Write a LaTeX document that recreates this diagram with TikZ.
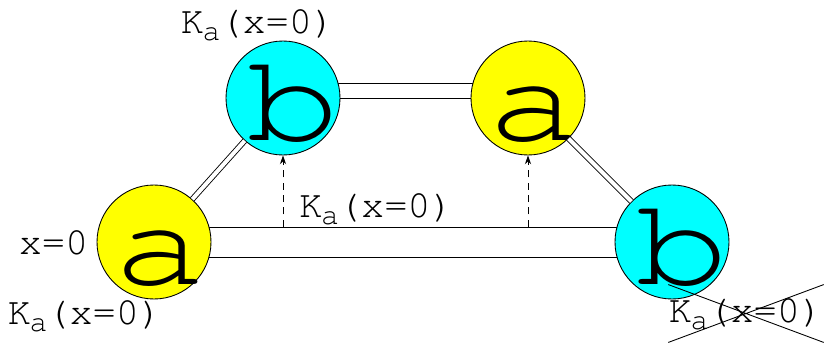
\documentclass[tikz,border=0pt]{standalone}
\usepackage[T1]{fontenc}
\usepackage{courier}
\usepackage{graphicx}
\usepackage{tikz}
\usetikzlibrary{positioning, shapes.misc, backgrounds, calc, arrows.meta}
\definecolor{atomyellow}{HTML}{FFFF00}
\definecolor{atomcyan}{HTML}{00FFFF}
\newcommand{\Kzero}{K\makebox[0.4em]{\raisebox{-0.18em}{\fontsize{17}{17}\selectfont a}}(x=0)}
\newcommand{\wide}[2][0cm]{\makebox[0pt]{\hspace{#1}\scalebox{1.25}[1]{#2}}}

\begin{document}
\begin{tikzpicture}[line width=0.5pt, font=\ttfamily\fontsize{22}{24}\selectfont,
    atom/.style={circle, draw, inner sep=0pt, minimum size=2.28cm, text height=1.68cm, text depth=0pt,
        font=\ttfamily\fontsize{71}{71}\selectfont},
    lbl/.style={inner sep=1pt}]
        \useasboundingbox (0,0) rectangle (16.5,6.86);
        % bonds
        \begin{scope}[on background layer]
        \node[draw, fill=white, inner sep=0pt, minimum width=10.36cm, minimum height=0.6cm] (bar) at (8.26,2.02) {};
        \node[draw, fill=white, inner sep=0pt, minimum width=4.9cm, minimum height=0.3cm] (link) at (8.11,5.05) {};
        \end{scope}
        % atoms
        \node[atom, fill=atomyellow] (a1) at (3.08,2.02) {\wide[0.25cm]{a}};
        \node[atom, fill=atomcyan] (b1) at (5.66,4.9) {\wide[0.4cm]{b}};
        \node[atom, fill=atomyellow] (a2) at (10.56,4.9) {\wide[0.25cm]{a}};
        \node[atom, fill=atomcyan] (b2) at (13.44,2.02) {\wide[0.4cm]{b}};
        \draw[double, double distance=0.08cm] (a1) -- (b1);
        \draw[double, double distance=0.08cm] (a2) -- (b2);
        \draw[dash pattern=on 4pt off 3pt, -{Stealth[length=5pt, width=3.5pt]}] (bar.north -| b1) -- (b1);
        \draw[dash pattern=on 4pt off 3pt, -{Stealth[length=5pt, width=3.5pt]}] (bar.north -| a2) -- (a2);
        % labels
        \node[lbl] (ktop) at (5.16,6.36) {\Kzero};
        \node[lbl, left=0.12cm of a1] (xzero) {x=0};
        \node[lbl] (kleft) at (1.7,0.54) {\Kzero};
        \node[lbl, anchor=south west] (kmid) at (5.94,2.32) {\Kzero};
        \node[cross out, draw, inner sep=0pt, minimum width=2.9cm, minimum height=1.14cm] (kright) at (14.92,0.59) {\Kzero};
    \end{tikzpicture}
\end{document}
